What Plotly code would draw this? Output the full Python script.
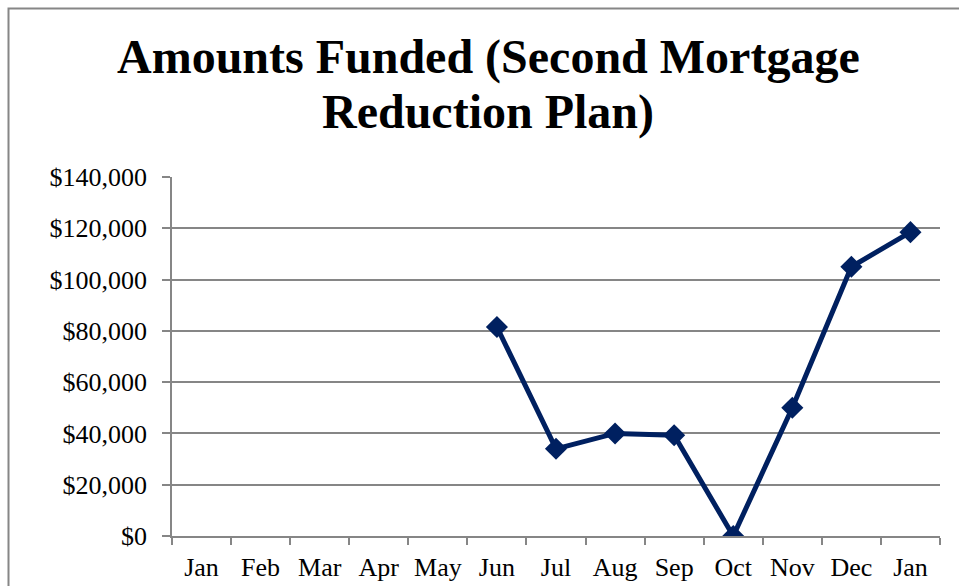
import plotly.graph_objects as go

months = ["Jan", "Feb", "Mar", "Apr", "May", "Jun", "Jul", "Aug", "Sep", "Oct", "Nov", "Dec", "Jan"]
amounts = [None, None, None, None, None, 81500, 34000, 40000, 39300, 0, 50000, 105000, 118500]
y_ticks = [0, 20000, 40000, 60000, 80000, 100000, 120000, 140000]
title_lines = ["Amounts Funded (Second Mortgage", "Reduction Plan)"]

positions = list(range(len(months)))
FONT = "Liberation Serif, Times New Roman, serif"
GRID = "#868686"
LINE = "#002060"

fig = go.Figure()
fig.add_trace(go.Scatter(
    x=positions, y=amounts, mode="lines+markers",
    line=dict(color=LINE, width=5),
    marker=dict(symbol="diamond", size=17, color=LINE),
    connectgaps=False, hoverinfo="skip", showlegend=False,
))

fig.update_layout(
    width=959, height=586,
    margin=dict(l=172, r=19, t=177, b=50, autoexpand=False),
    paper_bgcolor="white", plot_bgcolor="white",
    font=dict(family=FONT, size=26, color="black"),
    xaxis=dict(
        range=[-0.5, len(months) - 0.5],
        tickmode="array", tickvals=positions, ticktext=months,
        ticks="", showgrid=False, zeroline=False, automargin=False,
        showline=True, linecolor=GRID, linewidth=1.5,
        tickfont=dict(family=FONT, size=26, color="black"),
        ticklabelstandoff=7,
        minor=dict(tick0=-0.5, dtick=1, ticks="outside", ticklen=7,
                   tickcolor=GRID, tickwidth=1.5, showgrid=False),
    ),
    yaxis=dict(
        range=[0, 140000], tickmode="array", tickvals=y_ticks,
        tickformat="$,.0f", automargin=False,
        ticks="outside", ticklen=8, tickcolor=GRID, tickwidth=1.5,
        showgrid=True, gridcolor=GRID, gridwidth=1.5,
        zeroline=False, showline=True, linecolor=GRID, linewidth=1.5,
        tickfont=dict(family=FONT, size=26, color="black"),
        ticklabelstandoff=10,
    ),
)

# Outer chart border (extends past the right/bottom of the frame)
fig.add_shape(type="rect", xref="paper", yref="paper",
              x0=(8.5 - 172) / 768, x1=1.2, y0=-0.3, y1=1 + (177 - 8.5) / 359,
              line=dict(color=GRID, width=2), fillcolor="rgba(0,0,0,0)", layer="below")

title_y_px = [57, 112]
for line, ypx in zip(title_lines, title_y_px):
    fig.add_annotation(
        text="<b>" + line + "</b>", xref="paper", yref="paper",
        x=(488 - 172) / 768, y=(536 - ypx) / 359,
        xanchor="center", yanchor="middle", showarrow=False,
        font=dict(family=FONT, size=48, color="black"),
    )

fig.write_html("out.html", config={"displayModeBar": False},
               post_script="document.body.style.margin='0';document.body.style.overflow='hidden';")
